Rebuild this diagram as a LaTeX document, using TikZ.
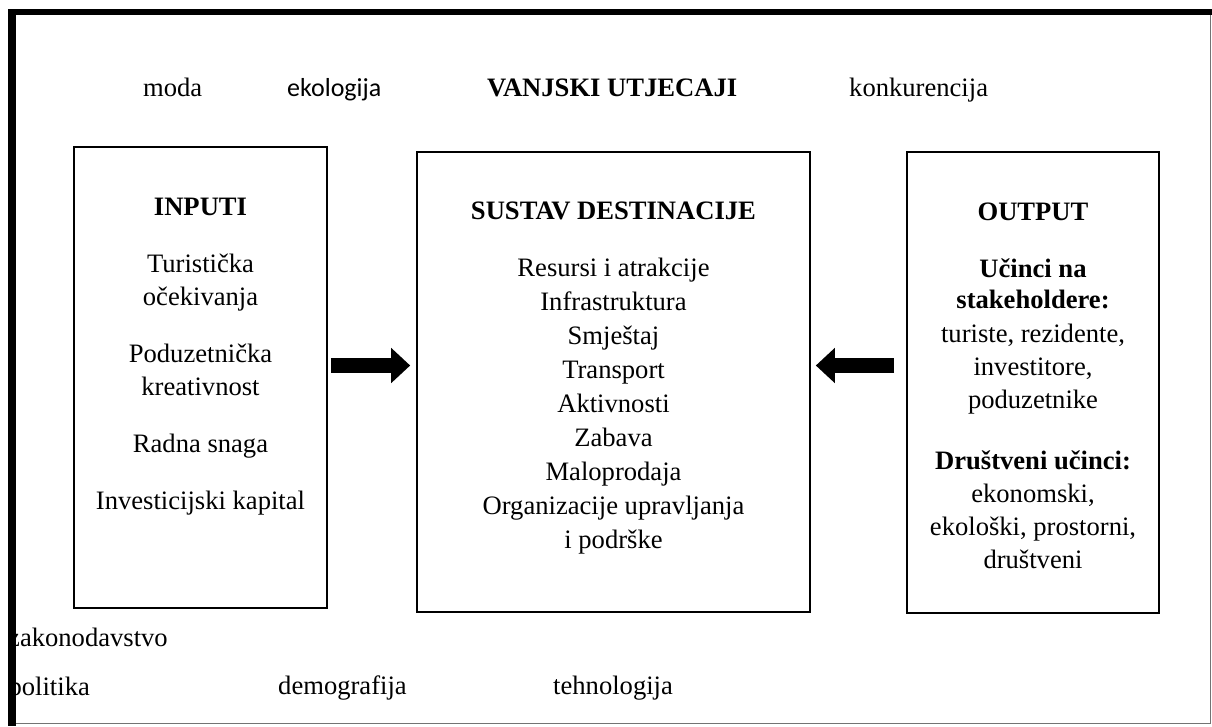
\documentclass[tikz,border=0pt]{standalone}
\usepackage{fontspec}
\setmainfont{Liberation Serif}
\newfontfamily\carlitofont{Carlito}
\usetikzlibrary{arrows.meta,calc}
\begin{document}
\begin{tikzpicture}[x=1pt,y=-1pt,
  txt/.style={anchor=base,inner sep=0pt,font=\fontsize{26.6}{33}\selectfont},
  txtb/.style={anchor=base,inner sep=0pt,font=\fontsize{26.6}{33}\selectfont\bfseries},
  lbl/.style={txt,anchor=base west},
  boxframe/.style={draw,line width=1.6pt,inner sep=0pt},
  fat/.style={line width=15pt,-{Triangle[length=19pt,width=34pt]}}
]
\useasboundingbox (0,0) rectangle (1212,726);
\fill[white] (0,0) rectangle (1212,726);

% outer influences
\node[lbl] (moda) at (143,96.7) {moda};
\node[lbl,font=\fontsize{26}{32}\selectfont\carlitofont] (ekol) at (287,96.7) {ekologija};
\node[txtb,anchor=base west] (vanj) at (487,96.5) {VANJSKI UTJECAJI};
\node[lbl] (konk) at (849,96.7) {konkurencija};
\node[lbl] (zakon) at (8,646.7) {zakonodavstvo};
\node[lbl] (polit) at (8.4,695) {politika};
\node[lbl] (demo) at (278,694.5) {demografija};
\node[lbl] (tehno) at (553,694.5) {tehnologija};

% boxes
\node[boxframe,minimum width=253pt,minimum height=461pt] (inp) at (200.5,377.5) {};
\node[boxframe,minimum width=393pt,minimum height=460pt] (sys) at (613.5,382) {};
\node[boxframe,minimum width=252pt,minimum height=461pt] (out) at (1033,382.5) {};

% INPUTI
\node[txtb] (i0) at (200.5,215) {INPUTI};
\node[txt] (i1) at (200.5,272) {Turistička};
\node[txt] (i2) at (200.5,305) {očekivanja};
\node[txt] (i3) at (200.5,362) {Poduzetnička};
\node[txt] (i4) at (200.5,395) {kreativnost};
\node[txt] (i5) at (200.5,452) {Radna snaga};
\node[txt] (i6) at (200.5,509) {Investicijski kapital};

% SUSTAV DESTINACIJE
\node[txtb] (s0) at (613.5,219.5) {SUSTAV DESTINACIJE};
\node[txt] (s1) at (613.5,276) {Resursi i atrakcije};
\node[txt] (s2) at (613.5,310) {Infrastruktura};
\node[txt] (s3) at (613.5,344) {Smještaj};
\node[txt] (s4) at (613.5,378) {Transport};
\node[txt] (s5) at (613.5,412) {Aktivnosti};
\node[txt] (s6) at (613.5,446) {Zabava};
\node[txt] (s7) at (613.5,480) {Maloprodaja};
\node[txt] (s8) at (613.5,514) {Organizacije upravljanja};
\node[txt] (s9) at (613.5,548) {i podrške};

% OUTPUT
\node[txtb] (o0) at (1033,220) {OUTPUT};
\node[txtb] (o1) at (1033,277) {Učinci na};
\node[txtb] (o2) at (1033,308) {stakeholdere:};
\node[txt] (o3) at (1033,342) {turiste, rezidente,};
\node[txt] (o4) at (1033,375) {investitore,};
\node[txt] (o5) at (1033,408) {poduzetnike};
\node[txtb] (o6) at (1033,469) {Društveni učinci:};
\node[txt] (o7) at (1033,502) {ekonomski,};
\node[txt] (o8) at (1033,535) {ekološki, prostorni,};
\node[txt] (o9) at (1033,568) {društveni};

% arrows
\coordinate (ay) at (0,365.5);
\draw[fat] ($(inp.east |- ay)+(3,0)$) -- ($(sys.west |- ay)+(-6,0)$);
\draw[fat] ($(out.west |- ay)+(-12,0)$) -- ($(sys.east |- ay)+(5,0)$);

% page frame
\fill[black] (8,9) rectangle (1212,15);
\fill[black] (8,9) rectangle (16,726);
\draw[black!55,line width=1.5pt] (1210.5,15) -- (1210.5,723.5) -- (16,723.5);
\end{tikzpicture}
\end{document}
